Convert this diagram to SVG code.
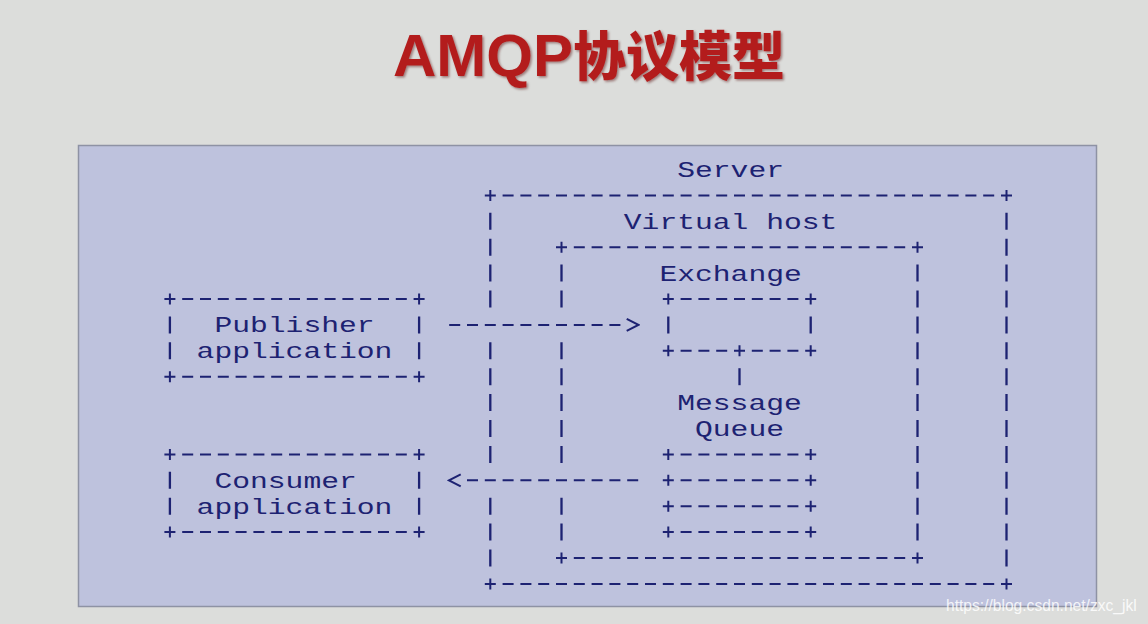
<svg xmlns="http://www.w3.org/2000/svg" xmlns:xlink="http://www.w3.org/1999/xlink" width="1148" height="624" viewBox="0 0 1148 624">
<defs>
<style>
.h{fill:none;stroke:#1d2272;stroke-width:2;stroke-dasharray:11 6.8}
.v{fill:none;stroke:#1d2272;stroke-width:2.3;stroke-dasharray:17 8.9}
.lbl{font-family:"Liberation Mono","DejaVu Sans Mono",monospace;font-size:22px;fill:#1d2272}
.pl{stroke:#1d2272;stroke-width:2;fill:none}
</style>
<g id="plus"><path class="pl" d="M-5.5 0H5.5M0 -5.5V5.5"/></g>
<marker id="chev" viewBox="0 -8 20 16" markerWidth="20" markerHeight="16" refX="0" refY="0" orient="auto" markerUnits="userSpaceOnUse">
<path d="M6.3 -6L18 0L6.3 6" fill="none" stroke="#1d2272" stroke-width="2" stroke-dasharray="none"/>
</marker>
<filter id="tsh" x="-5%" y="-10%" width="110%" height="130%">
<feDropShadow dx="1.5" dy="1.5" stdDeviation="1" flood-color="#4a0c0c" flood-opacity="0.45"/>
</filter>
</defs>
<rect x="0" y="0" width="1148" height="624" fill="#dcdddb"/>
<text x="393" y="76" fill="#b31f1f" font-weight="bold" filter="url(#tsh)"><tspan font-family="'Liberation Sans',Arial,sans-serif" font-size="60">AMQP</tspan><tspan font-family="'Noto Sans CJK SC',sans-serif" font-size="53" font-weight="900">协议模型</tspan></text>
<g id="panel">
<rect x="78.5" y="145.5" width="1018" height="461" fill="#bec2dd" stroke="#8e92a4" stroke-width="1.5"/>
</g>
<g id="server">
<path class="h" d="M502.6 195.4H994.2M502.6 583.9H994.2"/>
<path class="v" d="M490.3 212.8V307.5M490.3 342.3V462.9M490.3 497.7V566.5M1006.5 212.8V566.5"/>
<use xlink:href="#plus" x="490.3" y="195.4"/><use xlink:href="#plus" x="1006.5" y="195.4"/>
<use xlink:href="#plus" x="490.3" y="583.9"/><use xlink:href="#plus" x="1006.5" y="583.9"/>
<text class="lbl" x="677.2" y="177" textLength="106.8" lengthAdjust="spacingAndGlyphs">Server</text>
</g>
<g id="vhost">
<path class="h" d="M573.8 247.2H905.2M573.8 558H905.2"/>
<path class="v" d="M561.5 264.6V307.5M561.5 342.3V462.9M561.5 497.7V540.6M917.5 264.6V540.6"/>
<use xlink:href="#plus" x="561.5" y="247.2"/><use xlink:href="#plus" x="917.5" y="247.2"/>
<use xlink:href="#plus" x="561.5" y="558"/><use xlink:href="#plus" x="917.5" y="558"/>
<text class="lbl" x="623.8" y="228.8" textLength="213.6" lengthAdjust="spacingAndGlyphs">Virtual host</text>
</g>
<g id="exchange">
<path class="h" d="M680.6 299H798.4M680.6 350.8H727.2M751.8 350.8H798.4"/>
<path class="v" d="M668.3 316.4V333.4M810.7 316.4V333.4"/>
<use xlink:href="#plus" x="668.3" y="299"/><use xlink:href="#plus" x="810.7" y="299"/>
<use xlink:href="#plus" x="668.3" y="350.8"/><use xlink:href="#plus" x="739.5" y="350.8"/><use xlink:href="#plus" x="810.7" y="350.8"/>
<text class="lbl" x="659.4" y="280.6" textLength="142.4" lengthAdjust="spacingAndGlyphs">Exchange</text>
</g>
<g id="queue">
<path class="h" d="M680.6 454.4H798.4M680.6 480.3H798.4M680.6 506.2H798.4M680.6 532.1H798.4"/>
<use xlink:href="#plus" x="668.3" y="454.4"/><use xlink:href="#plus" x="810.7" y="454.4"/>
<use xlink:href="#plus" x="668.3" y="480.3"/><use xlink:href="#plus" x="810.7" y="480.3"/>
<use xlink:href="#plus" x="668.3" y="506.2"/><use xlink:href="#plus" x="810.7" y="506.2"/>
<use xlink:href="#plus" x="668.3" y="532.1"/><use xlink:href="#plus" x="810.7" y="532.1"/>
<text class="lbl" x="677.2" y="410.1" textLength="124.6" lengthAdjust="spacingAndGlyphs">Message</text>
<text class="lbl" x="695" y="436" textLength="89" lengthAdjust="spacingAndGlyphs">Queue</text>
</g>
<g id="publisher">
<path class="h" d="M182.2 299H406.8M182.2 376.7H406.8"/>
<path class="v" d="M169.9 316.4V359.3M419.1 316.4V359.3"/>
<use xlink:href="#plus" x="169.9" y="299"/><use xlink:href="#plus" x="419.1" y="299"/>
<use xlink:href="#plus" x="169.9" y="376.7"/><use xlink:href="#plus" x="419.1" y="376.7"/>
<text class="lbl" x="214.4" y="332.4" textLength="160.2" lengthAdjust="spacingAndGlyphs">Publisher</text>
<text class="lbl" x="196.6" y="358.3" textLength="195.8" lengthAdjust="spacingAndGlyphs">application</text>
</g>
<g id="consumer">
<path class="h" d="M182.2 454.4H406.8M182.2 532.1H406.8"/>
<path class="v" d="M169.9 471.8V514.7M419.1 471.8V514.7"/>
<use xlink:href="#plus" x="169.9" y="454.4"/><use xlink:href="#plus" x="419.1" y="454.4"/>
<use xlink:href="#plus" x="169.9" y="532.1"/><use xlink:href="#plus" x="419.1" y="532.1"/>
<text class="lbl" x="214.4" y="487.8" textLength="142.4" lengthAdjust="spacingAndGlyphs">Consumer</text>
<text class="lbl" x="196.6" y="513.7" textLength="195.8" lengthAdjust="spacingAndGlyphs">application</text>
</g>
<g id="connectors">
<path class="h" d="M449.2 324.9H620.4" marker-end="url(#chev)"/>
<path class="h" d="M638.2 480.3H467" marker-end="url(#chev)"/>
<path class="v" d="M739.5 368.2V385.2"/>
</g>
<text x="946" y="611" font-family="'Liberation Sans',Arial,sans-serif" font-size="15.6" fill="#ffffff" fill-opacity="0.85">https://blog.csdn.net/zxc_jkl</text>
</svg>
